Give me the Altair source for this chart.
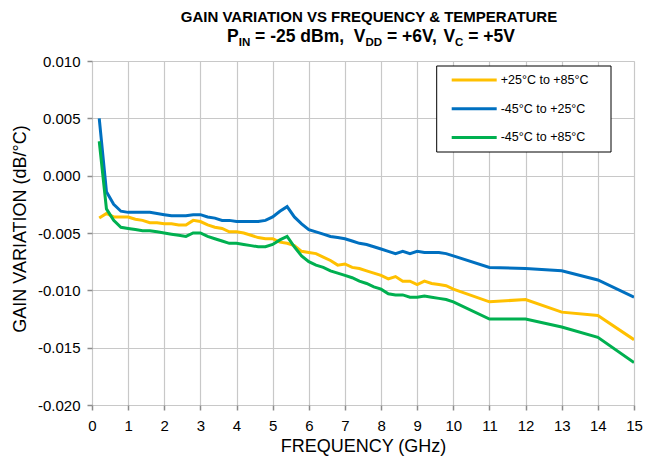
import altair as alt
import pandas as pd

# ---------------- data ----------------
freq = [0.2, 0.4, 0.6, 0.8, 1.0, 1.2, 1.4, 1.6, 1.8, 2.0,
        2.2, 2.4, 2.6, 2.8, 3.0, 3.2, 3.4, 3.6, 3.8, 4.0,
        4.2, 4.4, 4.6, 4.8, 5.0, 5.2, 5.4, 5.6, 5.8, 6.0,
        6.2, 6.4, 6.6, 6.8, 7.0, 7.2, 7.4, 7.6, 7.8, 8.0,
        8.2, 8.4, 8.6, 8.8, 9.0, 9.2, 9.4, 9.6, 9.8, 10.0,
        11, 12, 13, 14, 15]

gain_25_85 = [-0.0037, -0.0033, -0.0036, -0.0036, -0.0036, -0.0038, -0.0039, -0.0041, -0.0041, -0.0042,
              -0.0042, -0.0043, -0.0043, -0.0039, -0.0040, -0.0043, -0.0045, -0.0046, -0.0049, -0.0049,
              -0.0050, -0.0052, -0.0054, -0.0055, -0.0055, -0.0058, -0.0059, -0.0061, -0.0066, -0.0067,
              -0.0068, -0.0071, -0.0074, -0.0078, -0.0077, -0.0080, -0.0081, -0.0083, -0.0085, -0.0087,
              -0.0090, -0.0088, -0.0092, -0.0092, -0.0095, -0.0092, -0.0094, -0.0095, -0.0096, -0.0099,
              -0.0110, -0.0108, -0.0119, -0.0122, -0.0143]

gain_m45_25 = [0.0050, -0.0014, -0.0025, -0.0031, -0.0032, -0.0032, -0.0032, -0.0032, -0.0033, -0.0034,
               -0.0035, -0.0035, -0.0035, -0.0034, -0.0034, -0.0036, -0.0037, -0.0039, -0.0039, -0.0040,
               -0.0040, -0.0040, -0.0040, -0.0039, -0.0036, -0.0031, -0.0027, -0.0036, -0.0042, -0.0047,
               -0.0049, -0.0051, -0.0053, -0.0054, -0.0055, -0.0057, -0.0059, -0.0060, -0.0062, -0.0064,
               -0.0066, -0.0068, -0.0066, -0.0068, -0.0066, -0.0067, -0.0067, -0.0067, -0.0068, -0.0070,
               -0.0080, -0.0081, -0.0083, -0.0091, -0.0106]

gain_m45_85 = [0.0030, -0.0029, -0.0039, -0.0045, -0.0046, -0.0047, -0.0048, -0.0048, -0.0049, -0.0050,
               -0.0051, -0.0052, -0.0053, -0.0050, -0.0050, -0.0053, -0.0055, -0.0057, -0.0059, -0.0059,
               -0.0060, -0.0061, -0.0062, -0.0062, -0.0060, -0.0056, -0.0053, -0.0062, -0.0070, -0.0075,
               -0.0078, -0.0080, -0.0083, -0.0085, -0.0087, -0.0089, -0.0092, -0.0094, -0.0097, -0.0099,
               -0.0103, -0.0104, -0.0104, -0.0106, -0.0106, -0.0105, -0.0106, -0.0107, -0.0108, -0.0110,
               -0.0125, -0.0125, -0.0132, -0.0141, -0.0163]

series_names = ["+25°C to +85°C", "-45°C to +25°C", "-45°C to +85°C"]
series_colors = ["#FFC000", "#0070C0", "#00B050"]
series_values = [gain_25_85, gain_m45_25, gain_m45_85]

x_ticks = list(range(0, 16))
y_ticks = [-0.020, -0.015, -0.010, -0.005, 0.000, 0.005, 0.010]

title_line1 = "GAIN VARIATION VS FREQUENCY & TEMPERATURE"
# (text, is_subscript)
title_line2 = [("P", False), ("IN", True), (" = -25 dBm,  ", False), ("V", False), ("DD", True),
               (" = +6V, ", False), ("V", False), ("C", True), (" = +5V", False)]

# ---------------- layout ----------------
FONT = "Liberation Sans"
W_PLOT, H_PLOT = 542, 344

rows = []
for name, vals in zip(series_names, series_values):
    for f, v in zip(freq, vals):
        rows.append({"freq": f, "gain": v, "series": name})
df = pd.DataFrame(rows)

one = pd.DataFrame({"k": [0]})

lines = alt.Chart(df).mark_line(strokeWidth=3, clip=True).encode(
    x=alt.X("freq:Q", scale=alt.Scale(domain=[0, 15], nice=False, zero=False),
            axis=alt.Axis(values=x_ticks, format="d", grid=True, gridColor="#c8c8c8", gridWidth=1.2,
                          domain=False, tickColor="#8c8c8c", tickSize=5, tickWidth=1.5,
                          labelFontSize=15, labelFont=FONT, labelColor="#000000", labelPadding=8,
                          labelFlush=False, labelOverlap=False,
                          title="FREQUENCY (GHz)", titleFontSize=18, titleFont=FONT,
                          titleFontWeight="normal", titleColor="#000000",
                          titleX=W_PLOT / 2, titleY=46, titleBaseline="alphabetic", titleAlign="center")),
    y=alt.Y("gain:Q", scale=alt.Scale(domain=[-0.02, 0.01], nice=False, zero=False),
            axis=alt.Axis(values=y_ticks, format=".3f",
                          labelExpr="replace(datum.label, '\u2212', '-')",
                          grid=True, gridColor="#c8c8c8", gridWidth=1.2,
                          domain=False, tickColor="#8c8c8c", tickSize=5, tickWidth=1.5,
                          labelFontSize=15, labelFont=FONT, labelColor="#000000", labelPadding=7,
                          labelFlush=False, labelOverlap=False,
                          title="GAIN VARIATION (dB/°C)", titleFontSize=18, titleFont=FONT,
                          titleFontWeight="normal", titleColor="#000000",
                          titleX=-72, titleY=167.5, titleAngle=-90, titleAlign="center",
                          titleBaseline="middle")),
    color=alt.Color("series:N", scale=alt.Scale(domain=series_names, range=series_colors), legend=None),
    order=alt.Order("freq:Q"),
)

layers = [lines]

# legend box
leg_x0, leg_x1, leg_y0, leg_y1 = 344.7, 519, 5, 91
layers.append(alt.Chart(one).mark_rect(fill="white", stroke="black", strokeWidth=1).encode(
    x=alt.value(leg_x0), x2=alt.value(leg_x1), y=alt.value(leg_y0), y2=alt.value(leg_y1)))
for i, (name, col) in enumerate(zip(series_names, series_colors)):
    yy = 19 + i * 28.7
    layers.append(alt.Chart(one).mark_rule(color=col, strokeWidth=3).encode(
        x=alt.value(359.7), x2=alt.value(404.7), y=alt.value(yy)))
    layers.append(alt.Chart(one).mark_text(text=name, align="left", baseline="middle",
                                           font=FONT, fontSize=12.5, color="black").encode(
        x=alt.value(408.7), y=alt.value(yy)))

# title line 1
CX = 277
layers.append(alt.Chart(one).mark_text(text=title_line1, align="center", baseline="alphabetic",
                                       font=FONT, fontSize=15, fontWeight="bold", color="black").encode(
    x=alt.value(CX), y=alt.value(-39.5)))

# title line 2 with subscripts
WID = {' ': 278, 'P': 667, 'I': 278, 'N': 722, '=': 584, '-': 333, '2': 556, '5': 556, 'd': 611,
       'B': 722, 'm': 889, ',': 278, 'V': 667, 'D': 722, '+': 584, '6': 556, 'C': 722}
F_MAIN, F_SUB = 17.5, 11.5


def tw(s, f):
    return sum(WID[c] for c in s) * f / 1000.0


total = sum(tw(t, F_SUB if s else F_MAIN) for t, s in title_line2)
xpos = CX + 2 - total / 2
for t, s in title_line2:
    f = F_SUB if s else F_MAIN
    lead = len(t) - len(t.lstrip(' '))
    x_start = xpos + tw(' ' * lead, f)
    layers.append(alt.Chart(one).mark_text(text=t.strip(), align="left", baseline="alphabetic",
                                           font=FONT, fontSize=f, fontWeight="bold", color="black").encode(
        x=alt.value(x_start), y=alt.value(-15.5 if s else -19.5)))
    xpos += tw(t, f)

chart = alt.layer(*layers).properties(
    width=W_PLOT, height=H_PLOT,
    autosize=alt.AutoSizeParams(type="none"),
    padding={"left": 84, "top": 53, "right": 11, "bottom": 56},
).configure_view(stroke="#8c8c8c", strokeWidth=2).configure(background="white")

chart.save("out.html", embed_options={"renderer": "svg", "actions": False})
